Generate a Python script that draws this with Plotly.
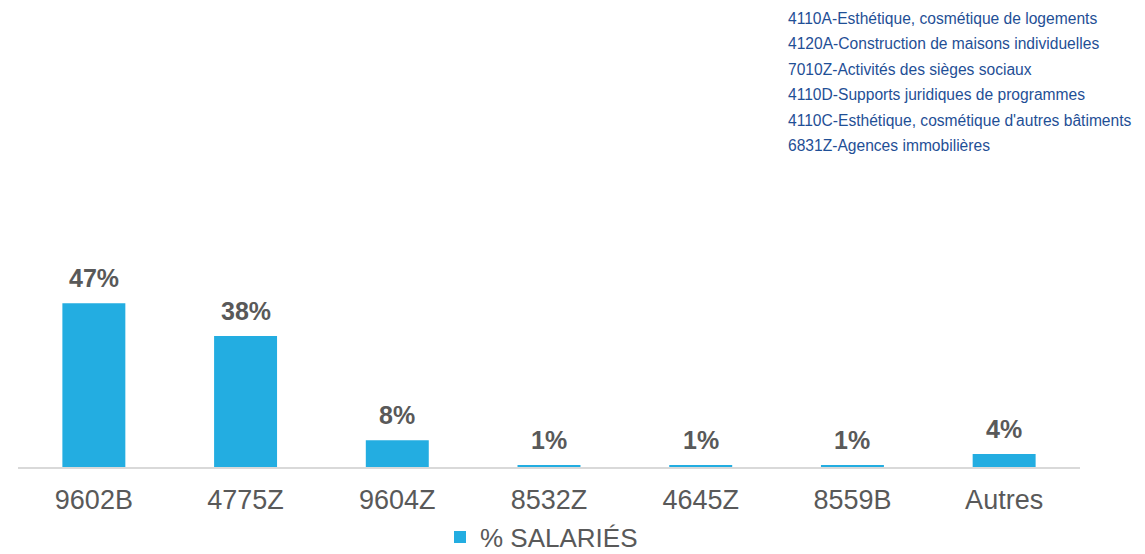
import plotly.graph_objects as go

categories = ["9602B", "4775Z", "9604Z", "8532Z", "4645Z", "8559B", "Autres"]
values = [47.0, 37.6, 7.7, 0.5, 0.5, 0.5, 3.7]
value_labels = ["47%", "38%", "8%", "1%", "1%", "1%", "4%"]
series_name = "% SALARIÉS"
notes = [
    "4110A-Esthétique, cosmétique de logements",
    "4120A-Construction de maisons individuelles",
    "7010Z-Activités des sièges sociaux",
    "4110D-Supports juridiques de programmes",
    "4110C-Esthétique, cosmétique d'autres bâtiments",
    "6831Z-Agences immobilières",
]

BAR = "#23ADE1"
GREY = "#595959"
FONT = "Liberation Sans, Arial, sans-serif"

# the page body has an 8px default margin; size the figure to fit the window
OFF = 8
W, H = 1145 - OFF, 554 - OFF
ML, MR, MT, MB = 10, 65, 250, 87

fig = go.Figure()
fig.add_trace(go.Bar(
    x=categories, y=values, name=series_name,
    marker=dict(color=BAR, line=dict(width=0)),
    showlegend=True,
))

# data labels
for c, v, t in zip(categories, values, value_labels):
    fig.add_annotation(
        x=c, y=v, xref="x", yref="y", text="<b>%s</b>" % t,
        showarrow=False, yanchor="bottom", yshift=9,
        font=dict(family=FONT, size=25, color=GREY),
    )

# notes in top-right (screen pixel positions)
line_px = [18, 43.5, 69, 94.5, 120, 145.5]
for txt, py in zip(notes, line_px):
    fig.add_annotation(
        x=0, xref="paper", xshift=(786 - OFF) - ML, xanchor="left",
        y=1, yref="paper", yshift=MT - (py - OFF), yanchor="middle",
        text=txt, showarrow=False,
        font=dict(family=FONT, size=15.6, color="#1F4F96"),
    )

fig.update_layout(
    width=W, height=H,
    margin=dict(l=ML, r=MR, t=MT, b=MB, autoexpand=False),
    paper_bgcolor="white", plot_bgcolor="white",
    bargap=0.585,
    showlegend=True,
    legend=dict(
        orientation="h",
        xref="container", x=(440 - OFF) / W, xanchor="left",
        yref="container", y=1 - (537 - OFF) / H, yanchor="middle",
        font=dict(family=FONT, size=26, color=GREY),
        itemwidth=30,
    ),
    xaxis=dict(
        showgrid=False, showline=True, linecolor="#D9D9D9", linewidth=2,
        ticks="", ticklabelstandoff=8, automargin=False,
        tickfont=dict(family=FONT, size=27, color=GREY),
        fixedrange=True,
    ),
    yaxis=dict(
        range=[0, 60], visible=False, showgrid=False, zeroline=False,
        fixedrange=True, automargin=False,
    ),
)

fig.write_html("out.html")
